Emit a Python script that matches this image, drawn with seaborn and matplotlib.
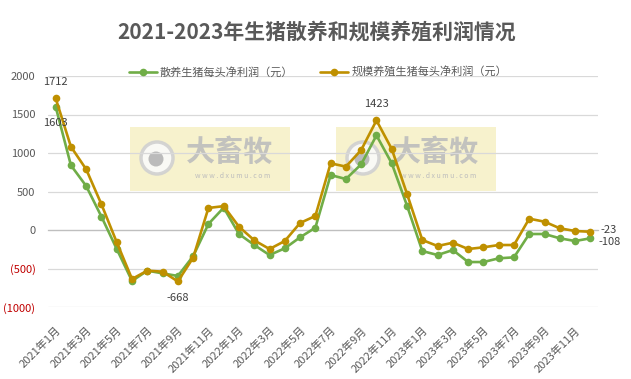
import matplotlib
matplotlib.use("Agg")
import matplotlib.pyplot as plt
import seaborn as sns
import pandas as pd
from matplotlib.patches import Rectangle, Circle
from matplotlib.transforms import IdentityTransform

# ---------------- data ----------------
months = [
    "2021年1月", "2021年2月", "2021年3月", "2021年4月", "2021年5月", "2021年6月",
    "2021年7月", "2021年8月", "2021年9月", "2021年10月", "2021年11月", "2021年12月",
    "2022年1月", "2022年2月", "2022年3月", "2022年4月", "2022年5月", "2022年6月",
    "2022年7月", "2022年8月", "2022年9月", "2022年10月", "2022年11月", "2022年12月",
    "2023年1月", "2023年2月", "2023年3月", "2023年4月", "2023年5月", "2023年6月",
    "2023年7月", "2023年8月", "2023年9月", "2023年10月", "2023年11月", "2023年12月",
]
series_names = ["散养生猪每头净利润（元）", "规模养殖生猪每头净利润（元）"]
backyard = [1603, 840, 571, 173, -247, -662, -528, -563, -597, -340, 78, 290,
            -52, -195, -325, -238, -95, 30, 714, 662, 853, 1229, 866, 316,
            -273, -325, -260, -416, -416, -368, -355, -52, -52, -108, -143, -108]
scale = [1712, 1082, 788, 333, -160, -636, -528, -541, -668, -360, 286, 310,
         43, -134, -247, -143, 91, 182, 866, 823, 1039, 1423, 1052, 468,
         -130, -208, -165, -247, -225, -195, -195, 147, 108, 22, -13, -23]
y_ticks = [-1000, -500, 0, 500, 1000, 1500, 2000]
title = "2021-2023年生猪散养和规模养殖利润情况"

colors = ["#70AD47", "#BF9000"]
grey_text = "#595959"

# ---------------- style ----------------
sns.set_theme(style="white")
plt.rcParams["font.family"] = ["Noto Sans CJK SC", "DejaVu Sans"]
plt.rcParams["axes.unicode_minus"] = False

W, H = 631, 379
fig = plt.figure(figsize=(W / 100, H / 100), dpi=100)
ax = fig.add_axes([48 / W, 1 - 307 / H, 550 / W, 231 / H])
ax.patch.set_alpha(0)

df = pd.DataFrame({
    "月份": months * 2,
    "利润": backyard + scale,
    "类型": [series_names[0]] * len(months) + [series_names[1]] * len(months),
})
sns.lineplot(data=df, x="月份", y="利润", hue="类型", palette=colors,
             marker="o", markersize=5.5, markeredgewidth=0, linewidth=1.9,
             sort=False, estimator=None, ax=ax, zorder=3)

# ---------------- axes ----------------
ax.set_xlim(-0.5, len(months) - 0.5)
ax.set_ylim(y_ticks[0], y_ticks[-1])
ax.set_yticks(y_ticks)
ax.set_yticklabels([f"({-v})" if v < 0 else f"{v}" for v in y_ticks])
for lab, v in zip(ax.get_yticklabels(), y_ticks):
    lab.set_color("#C00000" if v < 0 else grey_text)
ax.tick_params(axis="y", length=0, pad=9, labelsize=8)
ax.yaxis.grid(True, color="#D9D9D9", linewidth=0.9)
ax.xaxis.grid(False)
ax.set_xlabel("")
ax.set_ylabel("")
for s in ["left", "right", "top"]:
    ax.spines[s].set_visible(False)
ax.spines["bottom"].set_position(("data", 0))
ax.spines["bottom"].set_color("#BFBFBF")
ax.spines["bottom"].set_linewidth(0.9)
ax.set_xticks([i - 0.5 for i in range(0, len(months) + 1, 2)])
ax.tick_params(axis="x", length=4, width=0.9, color="#BFBFBF",
               direction="out", labelbottom=False)

sec = ax.secondary_xaxis("bottom")
sec.set_xticks(list(range(0, len(months), 2)))
sec.set_xticklabels(months[::2], rotation=45, ha="right", va="top",
                    rotation_mode="anchor", color=grey_text, fontsize=8)
sec.tick_params(length=0, pad=13)
sec.spines["bottom"].set_visible(False)

# ---------------- data labels ----------------
lab_kw = dict(textcoords="offset points", fontsize=8, color="#404040")
ax.annotate(f"{scale[0]}", (0, scale[0]), xytext=(0, 12), ha="center", va="center", **lab_kw)
ax.annotate(f"{backyard[0]}", (0, backyard[0]), xytext=(0, -12), ha="center", va="center", **lab_kw)
ax.annotate(f"{scale[8]}", (8, scale[8]), xytext=(0, -12), ha="center", va="center", **lab_kw)
ax.annotate(f"{scale[21]}", (21, scale[21]), xytext=(0, 12), ha="center", va="center", **lab_kw)
n = len(months) - 1
ax.annotate(f"{scale[n]}", (n, scale[n]), xytext=(7, 1), ha="left", va="center", **lab_kw)
ax.annotate(f"{backyard[n]}", (n, backyard[n]), xytext=(6, -3), ha="left", va="center", **lab_kw)

# ---------------- legend & title ----------------
handles, labels = ax.get_legend_handles_labels()
ax.get_legend().remove()
fig.legend(handles, labels, loc="center", bbox_to_anchor=(318 / W, 1 - 72 / H),
           ncol=2, frameon=False, fontsize=8, handlelength=2.5,
           columnspacing=2.4, handletextpad=0.3, labelcolor=grey_text)
fig.text(317 / W, 1 - 32 / H, title, ha="center", va="center",
         fontsize=15, fontweight="bold", color=grey_text)

# ---------------- watermarks ----------------
idt = IdentityTransform()
for left in (130, 336):
    top, w, h = 127, 160, 64
    fig.add_artist(Rectangle((left, H - top - h), w, h, transform=idt,
                             facecolor="#F5EDB8", edgecolor="none", alpha=0.7, zorder=-1))
    cx, cy = left + 27, H - 158
    fig.add_artist(Circle((cx, cy), 16, transform=idt, facecolor="#FAFAFA",
                          edgecolor="#D0D0D0", linewidth=2.5, alpha=0.9, zorder=-1))
    fig.add_artist(Circle((cx - 1, cy - 1), 7.5, transform=idt, facecolor="#B5B5B5",
                          edgecolor="none", alpha=0.9, zorder=-1))
    fig.text((left + 100) / W, 1 - 152 / H, "大畜牧", ha="center", va="center",
             fontsize=21, fontweight="bold", color="#BDBDBD", alpha=0.9, zorder=-1)
    fig.text((left + 103) / W, 1 - 176 / H, "w w w . d x u m u . c o m", ha="center",
             va="center", fontsize=5, color="#BDBDBD", zorder=-1)

fig.savefig("out.png", dpi=100)
